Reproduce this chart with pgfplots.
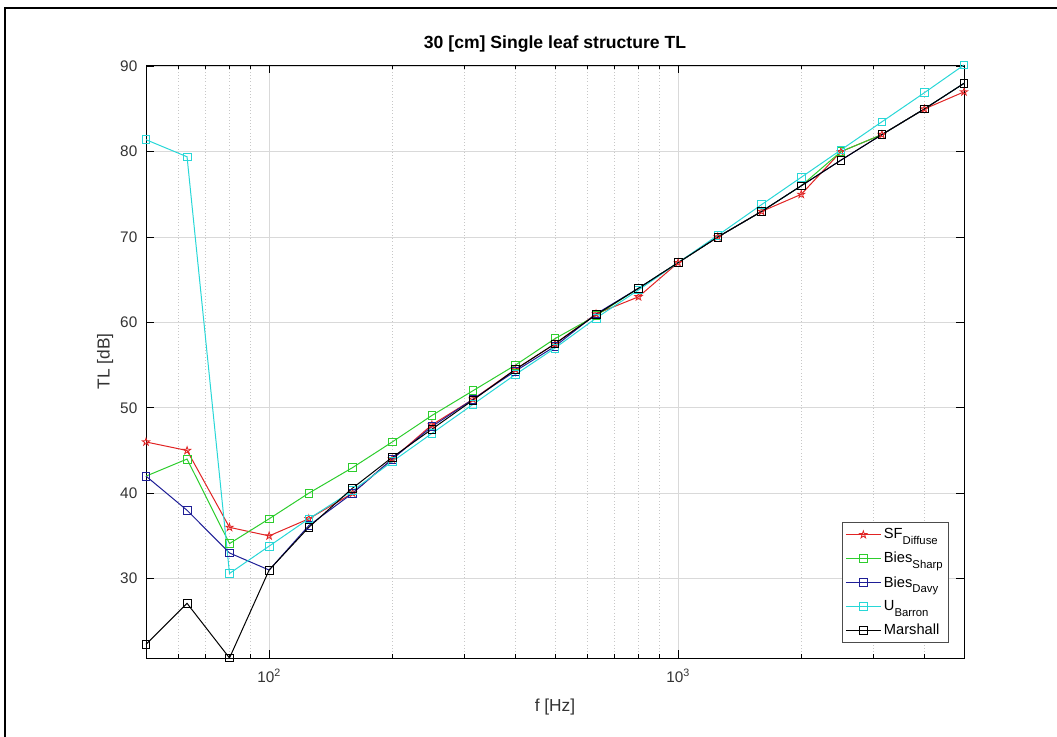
\documentclass[border=0pt]{standalone}
\usepackage{fontspec}
\setmainfont{Liberation Sans}
\usepackage{pgfplots}
\pgfplotsset{compat=1.18}
\pgfdeclareplotmark{pentagram}{%
  \pgfpathmoveto{\pgfpointpolar{90}{\pgfplotmarksize}}%
  \pgfpathlineto{\pgfpointpolar{126}{0.382\pgfplotmarksize}}%
  \pgfpathlineto{\pgfpointpolar{162}{\pgfplotmarksize}}%
  \pgfpathlineto{\pgfpointpolar{198}{0.382\pgfplotmarksize}}%
  \pgfpathlineto{\pgfpointpolar{234}{\pgfplotmarksize}}%
  \pgfpathlineto{\pgfpointpolar{270}{0.382\pgfplotmarksize}}%
  \pgfpathlineto{\pgfpointpolar{306}{\pgfplotmarksize}}%
  \pgfpathlineto{\pgfpointpolar{342}{0.382\pgfplotmarksize}}%
  \pgfpathlineto{\pgfpointpolar{18}{\pgfplotmarksize}}%
  \pgfpathlineto{\pgfpointpolar{54}{0.382\pgfplotmarksize}}%
  \pgfpathclose\pgfusepathqstroke}
\definecolor{cR}{RGB}{225,35,35}
\definecolor{cG}{RGB}{45,205,45}
\definecolor{cB}{RGB}{30,30,150}
\definecolor{cC}{RGB}{40,215,215}
\newcommand{\sub}[1]{\raisebox{-0.75ex}{\fontsize{8.5}{9}\selectfont #1}}
\begin{document}
\begin{tikzpicture}
\useasboundingbox (0,0) rectangle (792.75pt,552.75pt);
\draw[line width=2.2pt] (3.75pt,-10pt) -- (3.75pt,546.75pt) -- (810pt,546.75pt);
\begin{axis}[
  xmode=log,
  scale only axis, width=613.5pt, height=444.75pt,
  at={(109.5pt,59.25pt)}, anchor=south west,
  xmin=50, xmax=5000, ymin=20.7, ymax=90.15,
  xtick={100,1000}, xticklabels={10\textsuperscript{2},10\textsuperscript{3}},
  minor xtick={50,60,70,80,90,200,300,400,500,600,700,800,900,2000,3000,4000,5000},
  ytick={30,40,50,60,70,80,90},
  grid=both,
  major grid style={black!15, line width=0.5pt},
  minor grid style={black!22, dotted, line width=0.5pt},
  tick align=inside, major tick length=6pt, minor tick length=3pt,
  axis line style={line width=0.6pt},
  tick style={black, line width=0.5pt},
  ticklabel style={font=\fontsize{11.5}{13}\selectfont, text=black!80},
  /pgf/number format/assume math mode=true,
  xticklabel style={yshift=-5pt},
  yticklabel style={xshift=-3pt},
  xlabel={f [Hz]}, ylabel={TL [dB]},
  label style={font=\fontsize{13}{15}\selectfont, text=black!80},
  xlabel style={at={(axis description cs:0.5,-0.0826)}, anchor=center},
  ylabel style={at={(axis description cs:-0.0501,0.5)}, anchor=center},
  title={30 [cm] Single leaf structure TL},
  title style={font=\bfseries\fontsize{13.2}{15}\selectfont, at={(axis description cs:0.5,1)}, anchor=base, yshift=6pt},
  clip=false,
  legend style={at={(0.9817,0.0253)}, anchor=south east, font=\fontsize{11}{12}\selectfont,
    draw=black!70, line width=0.5pt, inner sep=2.5pt, row sep=4.6pt,
    /tikz/every even column/.append style={column sep=2pt}},
  legend cell align=left,
  legend image code/.code={\draw[mark repeat=2,mark phase=2] plot coordinates {(0cm,0cm)(0.46cm,0cm)(0.92cm,0cm)};},
  every axis plot/.append style={line width=0.75pt, mark size=2.9pt, mark options={solid, line width=0.6pt}},
]
\addplot[cR, mark=pentagram] coordinates {
(50,46)(63,45)(80,36)(100,35)(125,37)(160,40)(200,44)(250,48)(315,51)(400,54.5)(500,57.5)
(630,61)(800,63)(1000,67)(1250,70)(1600,73)(2000,75)(2500,80)(3150,82)(4000,85)(5000,87)};
\addlegendentry{SF\sub{Diffuse}}
\addplot[cG, mark=square] coordinates {
(50,42)(63,44)(80,34.1)(100,37)(125,40)(160,43)(200,46)(250,49.1)(315,52)(400,55)(500,58.1)
(630,60.8)(800,64)(1000,67)(1250,70)(1600,73)(2000,76)(2500,80)(3150,82)(4000,85)(5000,88)};
\addlegendentry{Bies\sub{Sharp}}
\addplot[cB, mark=square] coordinates {
(50,42)(63,38)(80,33)(100,31)(125,36.2)(160,40)(200,44)(250,47.8)(315,51)(400,54.3)(500,57.2)
(630,61)(800,64)(1000,67)(1250,70)(1600,73)(2000,76)(2500,79)(3150,82)(4000,85)(5000,88)};
\addlegendentry{Bies\sub{Davy}}
\addplot[cC, mark=square] coordinates {
(50,81.4)(63,79.4)(80,30.6)(100,33.8)(125,37)(160,40.3)(200,43.7)(250,47)(315,50.4)(400,53.9)(500,57)
(630,60.5)(800,63.8)(1000,67)(1250,70.2)(1600,73.8)(2000,77)(2500,80.2)(3150,83.5)(4000,86.9)(5000,90.15)};
\addlegendentry{U\sub{Barron}}
\addplot[black, mark=square] coordinates {
(50,22.3)(63,27.1)(80,20.7)(100,31)(125,36)(160,40.6)(200,44.2)(250,47.5)(315,50.9)(400,54.5)(500,57.5)
(630,60.9)(800,64)(1000,67)(1250,70)(1600,73)(2000,76)(2500,79)(3150,82)(4000,85)(5000,88)};
\addlegendentry{Marshall}
\end{axis}
\end{tikzpicture}
\end{document}
